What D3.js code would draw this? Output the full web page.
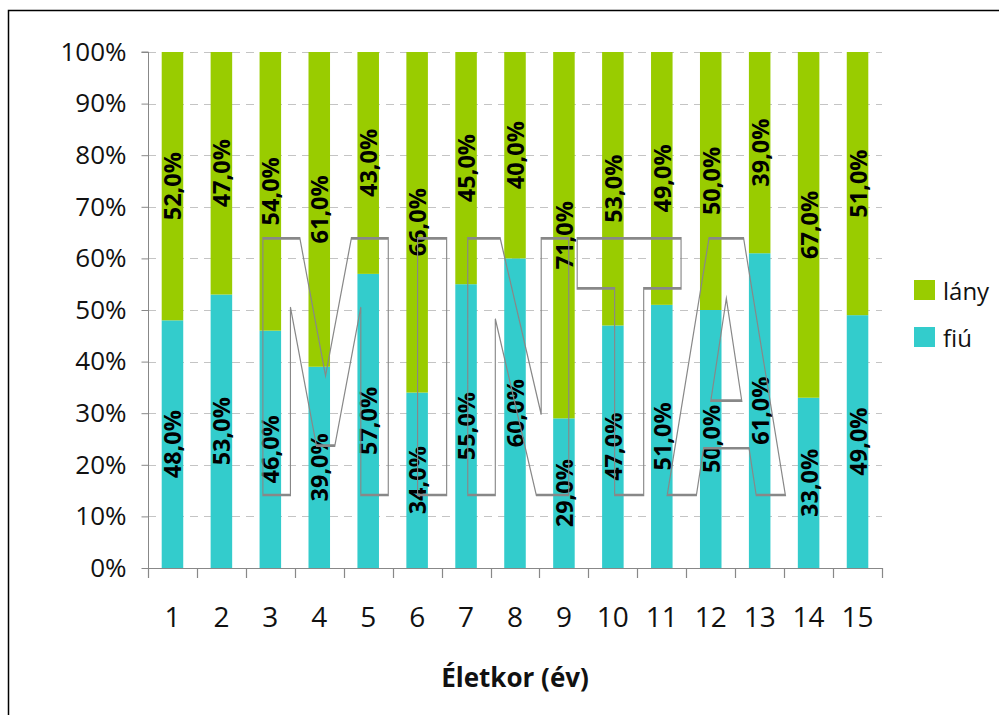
<!DOCTYPE html>
<html>
<head>
<meta charset="utf-8">
<script src="https://cdn.jsdelivr.net/npm/d3@7"></script>
<style>
  html, body { margin: 0; padding: 0; background: #fff; }
  svg { display: block; font-family: "Open Sans", "Noto Sans", sans-serif; }
</style>
</head>
<body>
<svg id="chart" width="999" height="715"></svg>
<script>
// Age groups (years) and the share of boys / girls in each
const ages = ["1","2","3","4","5","6","7","8","9","10","11","12","13","14","15"];
const fiu  = [48, 53, 46, 39, 57, 34, 55, 60, 29, 47, 51, 50, 61, 33, 49];
const lany = [52, 47, 54, 61, 43, 66, 45, 40, 71, 53, 49, 50, 39, 67, 51];
const seriesNames = ["fiú", "lány"];
const yTicks = [0, 0.1, 0.2, 0.3, 0.4, 0.5, 0.6, 0.7, 0.8, 0.9, 1.0];
const axisTitle = "Életkor (év)";
const watermark = "MINTA";

(function () {
const colors = { "fiú": "#33CCCC", "lány": "#99CC00" };

const svg = d3.select("#chart");

// outer frame
svg.append("rect")
  .attr("x", 8.5).attr("y", 10.5)
  .attr("width", 1000).attr("height", 712)
  .attr("fill", "none").attr("stroke", "#000").attr("stroke-width", 1.5);

const pLeft = 148, pRight = 882, pTop = 52, pBottom = 568;

const x = d3.scaleBand().domain(ages).range([pLeft, pRight])
  .paddingInner(0.56).paddingOuter(0.28);
const y = d3.scaleLinear().domain([0, 1]).range([pBottom, pTop]);

// rows for stacking
const rows = ages.map((a, i) => ({ age: a, "fiú": fiu[i] / 100, "lány": lany[i] / 100 }));
const stacked = d3.stack().keys(seriesNames)(rows);

// dashed gridlines
svg.append("g").selectAll("line")
  .data(yTicks.filter(t => t > 0))
  .join("line")
  .attr("x1", pLeft).attr("x2", pRight)
  .attr("y1", d => Math.round(y(d)) + 0.5).attr("y2", d => Math.round(y(d)) + 0.5)
  .attr("stroke", "#c4c4c4").attr("stroke-width", 1)
  .attr("stroke-dasharray", "8,6");

// bars
svg.append("g").selectAll("g")
  .data(stacked)
  .join("g")
  .attr("fill", d => colors[d.key])
  .selectAll("rect")
  .data(d => d)
  .join("rect")
  .attr("x", d => x(d.data.age))
  .attr("width", x.bandwidth())
  .attr("y", d => y(d[1]))
  .attr("height", d => y(d[0]) - y(d[1]));

// value labels, rotated inside each segment
const fmt = v => d3.format(".1f")(v * 100).replace(".", ",") + "%";
svg.append("g").selectAll("g")
  .data(stacked)
  .join("g")
  .selectAll("text")
  .data(d => d)
  .join("text")
  .attr("transform", d => `translate(${x(d.data.age) + x.bandwidth() / 2},${(y(d[0]) + y(d[1])) / 2}) rotate(-90)`)
  .attr("text-anchor", "middle")
  .attr("dominant-baseline", "central")
  .attr("font-weight", "bold")
  .attr("font-size", 23.5)
  .attr("fill", "#000")
  .text(d => fmt(d[1] - d[0]));

// y axis
const yAxis = d3.axisLeft(y).tickValues(yTicks).tickSize(7).tickPadding(15)
  .tickFormat(d => Math.round(d * 100) + "%");
const gy = svg.append("g").attr("transform", `translate(${pLeft + 0.5},0)`).call(yAxis);
gy.select(".domain").attr("stroke", "#888").attr("d", `M-7,${pTop}H0V${pBottom}`);
gy.selectAll(".tick line").attr("stroke", "#888");
gy.selectAll(".tick text").attr("font-size", 26).attr("fill", "#111")
  .attr("font-family", "'Open Sans', sans-serif");

// x axis baseline and category separators
const step = x.step();
svg.append("line")
  .attr("x1", pLeft).attr("x2", pRight)
  .attr("y1", pBottom + 0.5).attr("y2", pBottom + 0.5)
  .attr("stroke", "#888").attr("stroke-width", 1.2);
svg.append("g").selectAll("line")
  .data(d3.range(ages.length + 1))
  .join("line")
  .attr("x1", i => Math.round(pLeft + i * step) + 0.5)
  .attr("x2", i => Math.round(pLeft + i * step) + 0.5)
  .attr("y1", pBottom).attr("y2", pBottom + 10)
  .attr("stroke", "#888").attr("stroke-width", 1.2);

// x tick labels
svg.append("g").selectAll("text")
  .data(ages)
  .join("text")
  .attr("x", d => x(d) + x.bandwidth() / 2)
  .attr("y", 627)
  .attr("text-anchor", "middle")
  .attr("font-size", 28)
  .attr("fill", "#111")
  .text(d => d);

// axis title
svg.append("text")
  .attr("x", 515).attr("y", 687)
  .attr("text-anchor", "middle")
  .attr("font-size", 26).attr("font-weight", "bold")
  .attr("fill", "#111")
  .text(axisTitle);

// legend (girls above boys)
const legendItems = ["lány", "fiú"];
const lg = svg.append("g").selectAll("g")
  .data(legendItems)
  .join("g")
  .attr("transform", (d, i) => `translate(914,${280 + i * 47})`);
lg.append("rect").attr("width", 21).attr("height", 20).attr("fill", d => colors[d]);
lg.append("text").attr("x", 29).attr("y", 20).attr("font-size", 24).attr("fill", "#111")
  .text(d => d);

// outlined watermark: one text element, each glyph placed by its ink centre
const wmFont = "bold 100px 'DejaVu Sans'";
const wmBase = 495, wmCap = 257;
const wmBoxes = [[258, 394], [420, 444], [468, 569], [582, 676], [665, 787]];
const ctx = document.createElement("canvas").getContext("2d");
ctx.font = wmFont;
const glyphs = watermark.split("").map(ch => ctx.measureText(ch));
const capAsc = glyphs[0].actualBoundingBoxAscent || 72.9;
const sy = wmCap / capAsc;
// horizontal squeeze from the wide letters
let tw = 0, nw = 0;
glyphs.forEach((m, i) => {
  if (watermark[i] === "I") return;
  tw += wmBoxes[i][1] - wmBoxes[i][0];
  nw += m.actualBoundingBoxLeft + m.actualBoundingBoxRight;
});
const sx = tw / nw;
const xs = glyphs.map((m, i) => {
  const c = (wmBoxes[i][0] + wmBoxes[i][1]) / 2;
  return c / sx - (m.actualBoundingBoxRight - m.actualBoundingBoxLeft) / 2;
});
svg.append("text")
  .attr("transform", `translate(0,${wmBase}) scale(${sx},${sy})`)
  .attr("x", xs.join(" "))
  .attr("y", 0)
  .attr("font-family", "'DejaVu Sans', sans-serif")
  .attr("font-weight", "bold")
  .attr("font-size", 100)
  .attr("fill", "none")
  .attr("stroke", "#888")
  .attr("stroke-width", 2)
  .attr("vector-effect", "non-scaling-stroke")
  .text(watermark);
})();
</script>
</body>
</html>
